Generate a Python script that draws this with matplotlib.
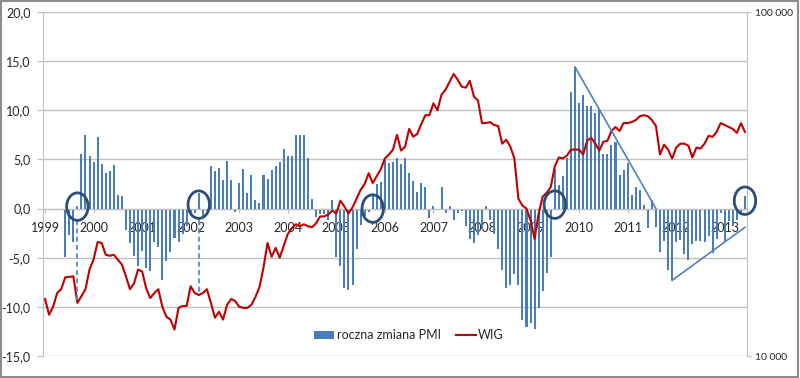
import math

import matplotlib.pyplot as plt
import numpy as np
from matplotlib.patches import Ellipse, Rectangle
from matplotlib.ticker import FixedLocator, FuncFormatter, NullLocator

plt.rcParams["font.family"] = ["Lato", "DejaVu Sans"]

# monthly data, Jan 1999 .. Jun 2013
YEARS = list(range(1999, 2014))

# year-on-year change of PMI (left axis), no data before Jun 1999
PMI_CHANGE = [
    math.nan, math.nan, math.nan, math.nan, math.nan, -4.9, -2.7, -3.4, 0.3, 5.6, 7.5, 5.3,
    4.7, 7.3, 4.5, 3.6, 3.8, 4.4, 1.4, 1.3, -2.2, -3.5, -4.8, -5.8,
    -4.3, -6.0, -6.4, -3.4, -3.9, -7.3, -5.3, -4.4, -3.0, -3.4, -2.6, -1.8,
    -0.8, -0.5, 1.6, -0.8, -0.2, 4.3, 3.8, 4.1, 2.9, 4.8, 2.9, -0.3,
    2.6, 4.0, 1.6, 3.4, 0.9, 0.6, 3.4, 3.0, 3.9, 4.3, 4.7, 6.1,
    5.3, 5.3, 7.5, 7.5, 7.5, 5.1, 1.0, -0.9, -0.6, -0.6, -1.2, 0.9,
    -4.9, -5.8, -8.1, -8.3, -7.8, -4.1, -1.7, -0.8, -0.3, 1.5, 2.5, 2.7,
    4.9, 4.6, 4.7, 5.1, 4.5, 5.1, 3.6, 2.8, 1.7, 2.6, 2.2, -1.0,
    0.3, -0.1, 2.2, -0.5, 0.3, -1.2, -0.5, -0.2, -1.8, -3.1, -3.5, -2.7,
    -2.1, 0.3, -1.2, -2.6, -4.1, -6.2, -8.1, -7.8, -6.7, -7.8, -11.3, -12.0,
    -11.6, -12.3, -10.1, -8.4, -6.6, -4.9, 4.0, 2.4, 3.3, 5.1, 11.9, 14.4,
    10.7, 11.6, 10.4, 10.4, 9.7, 10.1, 5.6, 5.6, 6.5, 6.8, 3.4, 3.9,
    4.6, 1.4, 2.2, 1.9, 0.4, -2.0, 0.9, -1.9, -4.4, -3.3, -6.3, -7.3,
    -3.4, -3.2, -4.6, -5.2, -3.6, -3.3, -3.3, -3.4, -2.8, -4.5, -3.1, -0.4,
    -3.4, -1.3, -1.8, -1.2, -0.7, 1.3,
]

# WIG index (right axis, log scale)
WIG = [
    14650, 13180, 13900, 15240, 15640, 16930, 16980, 17040, 14270, 14940, 15640, 17840,
    19060, 21450, 21310, 19690, 19560, 19690, 19060, 18440, 17040, 15640, 16270, 17840,
    17610, 15740, 14740, 15240, 15640, 13900, 13010, 12760, 11940, 13800, 13980, 13980,
    15950, 15240, 15040, 15240, 15640, 14270, 12920, 13450, 12760, 14080, 14650, 14450,
    13900, 13800, 13800, 14080, 14840, 15850, 18080, 21310, 19430, 20620, 19310, 20890,
    22620, 23530, 24150, 23830, 24150, 23830, 23680, 24310, 25450, 25450, 25790, 26480,
    25960, 28280, 27190, 25960, 27010, 28650, 30400, 31620, 34000, 31830, 33330, 34910,
    37520, 38520, 39810, 43950, 39550, 40610, 45710, 43380, 44230, 47240, 50120, 50120,
    54240, 51800, 57540, 59480, 62680, 66070, 63520, 60660, 60260, 63100, 56790, 55330,
    47550, 47550, 47860, 46930, 46620, 41420, 42520, 40610, 37520, 28650, 27360, 26830,
    24800, 21880, 25960, 29040, 29810, 31000, 35600, 37770, 37520, 38260, 39810, 39810,
    39810, 38520, 42240, 43080, 41420, 39550, 41960, 42240, 45110, 46320, 45110, 47550,
    47550, 47860, 48500, 49790, 50120, 49790, 48500, 46620, 38520, 41150, 39810, 37520,
    40340, 41420, 41420, 40880, 37770, 40340, 40080, 41420, 43650, 43380, 44810, 47550,
    46930, 46320, 45710, 44520, 47550, 44810,
]

# annotations: circled zero crossings, dashed drops to WIG, trend lines
CIRCLE_MONTHS = [8, 38, 81, 126, 173]
CIRCLE_LEVELS = [0.2, 0.4, 0.0, 0.4, 0.8]
DASHED_MONTHS = [8, 38]
TREND_LINES = [((131, 14.4), (151, 0.0)), ((155, -7.3), (173, -1.9))]

BAR_BLUE = "#4a7ebb"
LINE_RED = "#c00000"
GRID = "#c0c0c0"
TEXT = "#262626"


def left_units(wig_value: float) -> float:
    return 35 * math.log10(wig_value / 10000) - 15


months = np.arange(len(WIG))

fig = plt.figure(figsize=(8.0, 3.78), dpi=100)
ax = fig.add_axes([43 / 800, 22 / 378, 704 / 800, 344 / 378])
ax2 = ax.twinx()

bars = ax.bar(months, PMI_CHANGE, width=0.5, color=BAR_BLUE, linewidth=0, zorder=2)
(wig_line,) = ax2.plot(months, WIG, color=LINE_RED, linewidth=1.5, zorder=3)

ax.set_xlim(-0.5, len(WIG) - 0.5)
ax.set_ylim(-15, 20)
ax.yaxis.set_major_locator(FixedLocator(np.arange(-15, 21, 5)))
ax.yaxis.set_major_formatter(FuncFormatter(lambda v, p: f"{v:.1f}".replace(".", ",")))
ax.grid(axis="y", color=GRID, linewidth=1.0, zorder=0)
ax.set_axisbelow(True)

ax.set_xticks([12 * i for i in range(len(YEARS))])
ax.set_xticklabels([str(y) for y in YEARS])
ax.spines["bottom"].set_position(("data", 0))
ax.spines["top"].set_visible(False)
ax.spines["right"].set_visible(False)
ax.spines["bottom"].set_color(GRID)
ax.spines["left"].set_color(GRID)
ax.tick_params(axis="x", length=3, color=GRID, pad=7, labelsize=9, labelcolor=TEXT)
ax.tick_params(axis="y", length=4, color=GRID, pad=5, labelsize=9, labelcolor=TEXT)

ax2.set_yscale("log")
ax2.set_ylim(10000, 100000)
ax2.yaxis.set_major_locator(FixedLocator([10000, 100000]))
ax2.yaxis.set_minor_locator(NullLocator())
ax2.yaxis.set_major_formatter(FuncFormatter(lambda v, p: f"{int(v):,}".replace(",", " ")))
for side in ("top", "left", "bottom"):
    ax2.spines[side].set_visible(False)
ax2.spines["right"].set_color(GRID)
ax2.tick_params(axis="y", length=3, color=GRID, pad=2.5, labelsize=7.5, labelcolor=TEXT)

# annotations drawn above the bars, in left-axis units
ann_color = "#4f81bd"
for m, level in zip(CIRCLE_MONTHS, CIRCLE_LEVELS):
    ax2.add_patch(Ellipse((m, level), 5.3, 2.8, transform=ax.transData, clip_on=False,
                          fill=False, edgecolor="#2c4d75", linewidth=2.0, zorder=5))
for m in DASHED_MONTHS:
    ax2.plot([m, m], [-1.2, left_units(WIG[m])], transform=ax.transData,
             color=ann_color, linewidth=1.2, linestyle=(0, (3, 2)), zorder=4)
for (x0, y0), (x1, y1) in TREND_LINES:
    ax2.plot([x0, x1], [y0, y1], transform=ax.transData,
             color=ann_color, linewidth=1.2, zorder=4)

ax2.legend([bars, wig_line], ["roczna zmiana PMI", "WIG"], loc="center",
           bbox_to_anchor=(0.52, 0.061), ncol=2, frameon=False, fontsize=9,
           handlelength=1.6, handleheight=0.6, columnspacing=1.2, handletextpad=0.2,
           labelcolor=TEXT)

fig.patches.append(Rectangle((0.001, 0.002), 0.997, 0.995, transform=fig.transFigure,
                             fill=False, edgecolor="#8c8c8c", linewidth=1.5))

fig.savefig("out.png", dpi=100)
